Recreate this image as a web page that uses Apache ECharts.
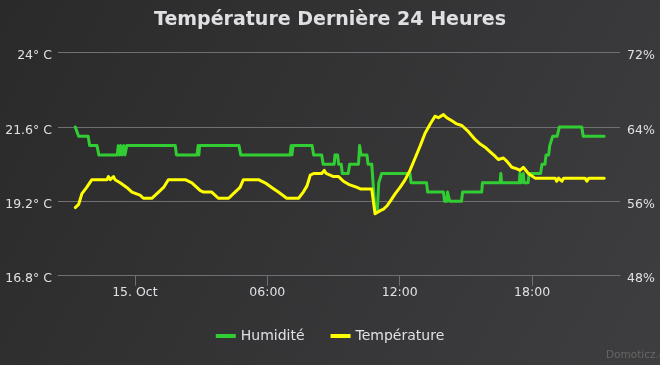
<!DOCTYPE html>
<html>
<head>
<meta charset="utf-8">
<script src="https://cdn.jsdelivr.net/npm/echarts@6/dist/echarts.min.js"></script>
<style>
html,body{margin:0;padding:0;background:#2a2a2b;}
#chart{width:660px;height:365px;}
</style>
</head>
<body>
<div id="chart"></div>
<script>
// ---- data (times are "day HH:MM" in October) ----
const humTimes = ['14 21:18','14 21:23','14 21:27','14 21:53','14 21:57','14 22:17','14 22:22','14 23:12','14 23:15','14 23:18','14 23:22','14 23:25','14 23:30','14 23:33','14 23:38','15 01:50','15 01:53','15 02:49','15 02:52','15 02:54','15 02:56','15 04:43','15 04:48','15 07:02','15 07:05','15 07:07','15 07:10','15 08:02','15 08:06','15 08:28','15 08:32','15 09:02','15 09:04','15 09:11','15 09:14','15 09:21','15 09:24','15 09:40','15 09:44','15 10:08','15 10:11','15 10:15','15 10:31','15 10:34','15 10:44','15 10:53','15 10:59','15 11:03','15 11:08','15 11:11','15 12:28','15 12:31','15 13:13','15 13:16','15 13:59','15 14:02','15 14:08','15 14:10','15 14:13','15 14:16','15 14:48','15 14:51','15 15:43','15 15:45','15 16:33','15 16:35','15 16:37','15 17:25','15 17:27','15 17:30','15 17:36','15 17:38','15 17:49','15 17:52','15 18:23','15 18:27','15 18:35','15 18:38','15 18:45','15 18:48','15 18:53','15 18:56','15 19:08','15 19:14','15 20:15','15 20:19','15 21:16'];
const humValues = [64,64,63,63,62,62,61,61,62,61,62,61,62,61,62,62,61,61,62,61,62,62,61,61,62,61,62,62,61,61,60,60,61,61,60,60,59,59,60,60,62,61,61,60,60,55,55,58,58,59,59,58,58,57,57,56,56,57,57,56,56,57,57,58,58,59,58,58,59,58,59,58,58,59,59,60,60,61,61,62,62,63,63,64,64,63,63];

const tempTimes = ['14 21:18','14 21:27','14 21:36','14 21:49','14 22:03','14 22:44','14 22:48','14 22:53','14 23:02','14 23:06','14 23:20','14 23:38','14 23:52','15 00:14','15 00:23','15 00:46','15 01:00','15 01:18','15 01:31','15 02:17','15 02:35','15 02:58','15 03:07','15 03:29','15 03:47','15 04:15','15 04:28','15 04:46','15 04:55','15 05:36','15 05:54','15 06:12','15 06:30','15 06:53','15 07:25','15 07:38','15 07:48','15 07:57','15 08:06','15 08:28','15 08:35','15 08:40','15 09:00','15 09:14','15 09:27','15 09:41','15 10:04','15 10:13','15 10:44','15 10:53','15 11:07','15 11:16','15 11:25','15 11:34','15 11:48','15 12:01','15 12:15','15 12:28','15 12:42','15 12:56','15 13:09','15 13:23','15 13:36','15 13:45','15 13:59','15 14:08','15 14:22','15 14:35','15 14:49','15 15:07','15 15:25','15 15:39','15 15:52','15 16:06','15 16:20','15 16:28','15 16:42','15 16:51','15 17:05','15 17:19','15 17:27','15 17:36','15 17:50','15 18:08','15 19:03','15 19:07','15 19:12','15 19:16','15 19:21','15 19:26','15 20:24','15 20:29','15 20:34','15 21:16'];
const tempValues = [19.0,19.1,19.45,19.65,19.9,19.9,20.0,19.9,20.0,19.9,19.8,19.65,19.5,19.4,19.3,19.3,19.45,19.65,19.9,19.9,19.8,19.55,19.5,19.5,19.3,19.3,19.45,19.65,19.9,19.9,19.8,19.65,19.5,19.3,19.3,19.5,19.7,20.05,20.1,20.1,20.2,20.1,20.0,20.0,19.85,19.75,19.65,19.6,19.6,18.8,18.9,18.95,19.05,19.2,19.45,19.65,19.9,20.2,20.6,21.0,21.4,21.7,21.95,21.9,22.0,21.9,21.8,21.7,21.65,21.45,21.2,21.05,20.95,20.8,20.65,20.55,20.6,20.5,20.3,20.25,20.2,20.3,20.1,19.95,19.95,19.85,19.95,19.95,19.85,19.95,19.95,19.85,19.95,19.95];

const xTicks = ['15 00:00', '15 06:00', '15 12:00', '15 18:00'];
const xRange = ['14 20:31', '15 21:59'];
const tempTicks = [16.8, 19.2, 21.6, 24];
const humTicks = [48, 56, 64, 72];

// time "DD HH:MM" -> hours since 15 Oct 00:00
const toH = s => { const [d, hm] = s.split(' '); const [h, m] = hm.split(':').map(Number); return (Number(d) - 15) * 24 + h + m / 60; };
const humData = humTimes.map((t, i) => [toH(t), humValues[i]]);
const tempData = tempTimes.map((t, i) => [toH(t), tempValues[i]]);
const tickH = xTicks.map(toH);
const pad = n => (n < 10 ? '0' : '') + n;
const fmtX = v => { const h = Math.round(v); const hh = ((h % 24) + 24) % 24; return hh === 0 ? (15 + Math.floor(h / 24)) + '. Oct' : pad(hh) + ':00'; };

const FONT = 'DejaVu Sans';
const chart = echarts.init(document.getElementById('chart'));
chart.setOption({
  animation: false,
  backgroundColor: {
    type: 'linear', x: 0, y: 0, x2: 1, y2: 1,
    colorStops: [{offset: 0, color: '#2a2a2b'}, {offset: 1, color: '#3e3e40'}]
  },
  textStyle: {fontFamily: FONT},
  title: {
    text: 'Température Dernière 24 Heures',
    left: 'center', top: 6,
    textStyle: {color: '#E0E0E3', fontSize: 19, fontWeight: 'bold', fontFamily: FONT}
  },
  legend: {
    left: 'center', top: 324,
    icon: 'rect', itemWidth: 20, itemHeight: 4, itemGap: 26, itemTextGap: 6,
    textStyle: {color: '#E0E0E3', fontSize: 14, fontFamily: FONT},
    data: ['Humidité', 'Température']
  },
  grid: {left: 58, right: 40, top: 52.7, bottom: 89.3, containLabel: false},
  xAxis: {
    type: 'value',
    min: toH(xRange[0]), max: toH(xRange[1]),
    axisLine: {lineStyle: {color: '#707073', width: 1}},
    axisTick: {customValues: tickH, length: 10, lineStyle: {color: '#707073'}},
    axisLabel: {customValues: tickH, margin: 11, color: '#E0E0E3', fontSize: 12.5, fontFamily: FONT, formatter: fmtX},
    splitLine: {show: false}
  },
  yAxis: [{
    type: 'value', min: tempTicks[0], max: tempTicks[tempTicks.length - 1], interval: 2.4,
    axisLine: {show: false}, axisTick: {show: false},
    splitLine: {lineStyle: {color: '#707073', width: 1}},
    axisLabel: {
      color: '#E0E0E3', fontSize: 12.5, fontFamily: FONT, margin: 6,
      verticalAlign: 'top', lineHeight: 7,
      formatter: v => (Math.round(v * 10) / 10) + '° C'
    }
  }, {
    type: 'value', min: humTicks[0], max: humTicks[humTicks.length - 1], interval: 8,
    position: 'right',
    axisLine: {show: false}, axisTick: {show: false}, splitLine: {show: false},
    axisLabel: {
      color: '#E0E0E3', fontSize: 12.5, fontFamily: FONT, margin: 7,
      verticalAlign: 'top', lineHeight: 7,
      formatter: '{value}%'
    }
  }],
  series: [{
    name: 'Humidité', type: 'line', yAxisIndex: 1, data: humData,
    showSymbol: false, color: '#32CD32',
    lineStyle: {width: 3, color: '#32CD32', cap: 'round', join: 'round'}
  }, {
    name: 'Température', type: 'line', yAxisIndex: 0, data: tempData,
    showSymbol: false, color: '#FFFF00',
    lineStyle: {width: 3, color: '#FFFF00', cap: 'round', join: 'round'}
  }],
  graphic: [{
    type: 'text', left: 606, top: 350,
    style: {text: 'Domoticz.com', fill: '#666666', fontSize: 10.5, fontFamily: FONT}
  }]
});
</script>
</body>
</html>
